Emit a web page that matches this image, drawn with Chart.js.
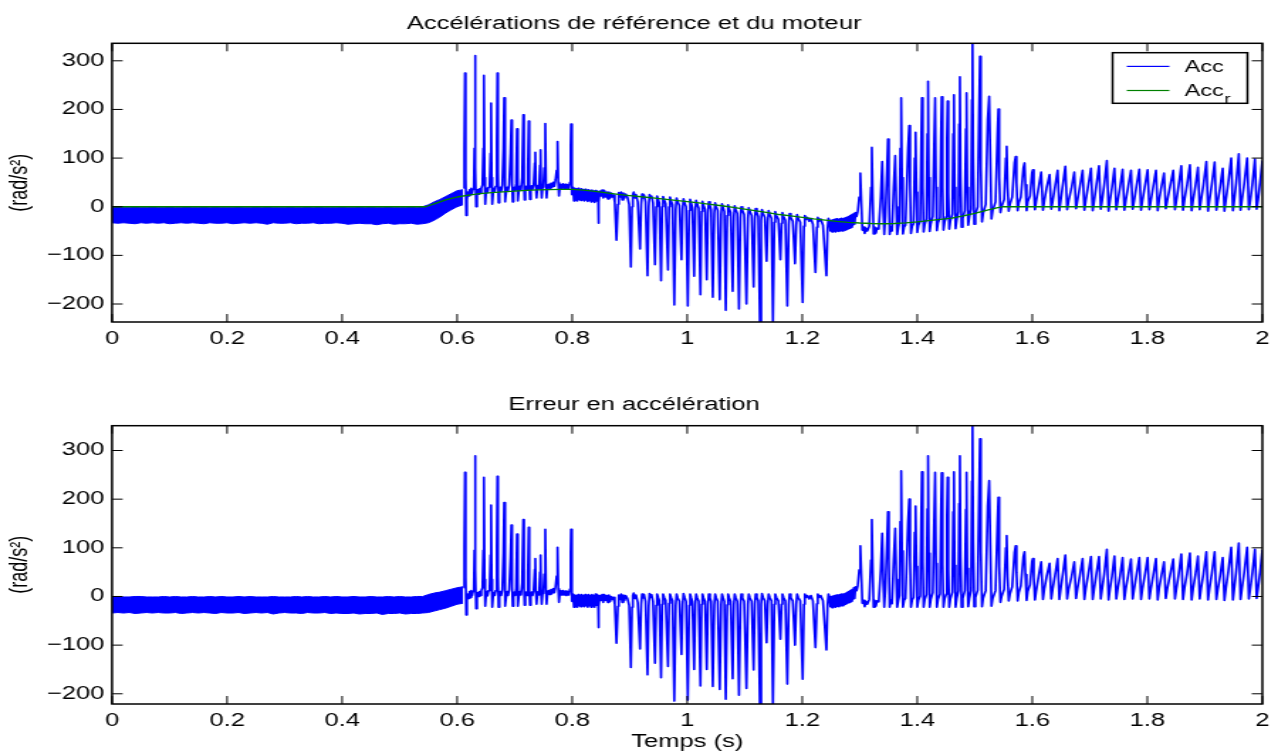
<!DOCTYPE html>
<html><head><meta charset="utf-8">
<script src="https://cdn.jsdelivr.net/npm/chart.js@4.4.1/dist/chart.umd.min.js"></script>
<style>
html,body{margin:0;padding:0;background:#fff;overflow:hidden;}
#wrap{position:relative;width:1278px;height:751px;overflow:hidden;background:#fff;}
canvas{position:absolute;left:0;transform-origin:0 0;transform:scaleX(1.42);}
#c1{top:0;width:900px;height:380px;}
#c2{top:380px;width:900px;height:380px;}
</style></head><body>
<div id="wrap"><canvas id="c1" width="900" height="380"></canvas><canvas id="c2" width="900" height="380"></canvas></div>
<script>
// ---------- axes ----------
const xMin = 0, xMax = 2;
const xTickVals = [0, 0.2, 0.4, 0.6, 0.8, 1, 1.2, 1.4, 1.6, 1.8, 2];
const yTickVals = [-200, -100, 0, 100, 200, 300];
const yRangeTop = [-237, 336];
const yRangeBottom = [-221, 351];

// ---------- reference acceleration (green) ----------
const refT = [0, 0.545, 0.55, 0.56, 0.57, 0.58, 0.59, 0.60, 0.62, 0.64, 0.66, 0.68, 0.70, 0.72, 0.74, 0.76, 0.78, 0.80, 0.82, 0.84, 0.86, 0.88, 0.90, 0.92, 0.94, 0.96, 0.98, 1.00, 1.02, 1.04, 1.06, 1.08, 1.10, 1.12, 1.14, 1.16, 1.18, 1.20, 1.22, 1.24, 1.26, 1.28, 1.30, 1.32, 1.34, 1.36, 1.38, 1.40, 1.42, 1.44, 1.46, 1.48, 1.50, 1.52, 1.54, 1.55, 2.0];
const refV = [0, 0, 2, 6, 10, 14, 17, 20, 24, 27, 29, 30.5, 32, 33.5, 34.5, 35, 35.5, 35.5, 34, 31.5, 28.5, 25.5, 23, 20.5, 18, 15.5, 13, 10.5, 8, 5, 2, -1.5, -5, -8.5, -12, -16, -19, -22, -25, -27.5, -30, -32, -33.5, -34.5, -35, -34.5, -33, -31, -28.5, -26, -23.5, -19, -13.5, -7.5, -2, 0, 0];

// ---------- dense noise band 0 .. 0.61 s (upper / lower envelopes) ----------
const bandT = [0, 0.01, 0.02, 0.03, 0.04, 0.05, 0.06, 0.07, 0.08, 0.09,
  0.10, 0.11, 0.12, 0.13, 0.14, 0.15, 0.16, 0.17, 0.18, 0.19,
  0.20, 0.21, 0.22, 0.23, 0.24, 0.25, 0.26, 0.27, 0.28, 0.29,
  0.30, 0.31, 0.32, 0.33, 0.34, 0.35, 0.36, 0.37, 0.38, 0.39,
  0.40, 0.41, 0.42, 0.43, 0.44, 0.45, 0.46, 0.47, 0.48, 0.49,
  0.50, 0.51, 0.52, 0.53, 0.54,
  0.55, 0.56, 0.57, 0.58, 0.59, 0.60, 0.61];
const accBandHi = [-1, 0, -1, -1, 0, -1, -1, 0, -1, -1,
  0, -1, -1, 0, -1, -1, 0, -1, 0, -1,
  -1, -1, 0, -1, -1, 0, -1, 0, -1, -1,
  -1, 0, -1, -1, 0, -1, 0, -1, -1, -1,
  0, -1, -1, 0, -1, 0, -1, -1, 0, -1,
  -1, -1, 0, -1, 0,
  4, 10, 15, 21, 27, 33, 35];
const accBandLo = [-33, -34, -33, -34, -35, -33, -34, -33, -34, -33,
  -35, -34, -33, -34, -33, -34, -35, -33, -34, -34,
  -33, -35, -34, -33, -34, -33, -34, -36, -33, -34,
  -34, -33, -35, -34, -34, -33, -35, -34, -34, -33,
  -34, -36, -35, -34, -35, -35, -37, -35, -34, -36,
  -35, -35, -34, -36, -35,
  -33, -28, -21, -13, -6, 0, 4];
const errBandHi = [0, -1, -1, -1, 0, 0, -1, -1, -1, 0,
  -1, 0, -1, -1, 0, -1, -1, 0, -1, 0,
  -1, -1, 0, -1, 0, -1, -1, -1, 0, -1,
  -1, -1, 0, -1, 0, -1, -1, 0, -1, 0,
  -1, -1, 0, -1, -1, 0, -1, -1, 0, -1,
  0, -1, -1, 0, 0,
  4, 7, 9, 12, 15, 18, 20];
const errBandLo = [-34, -33, -34, -33, -35, -34, -33, -34, -33, -34,
  -34, -33, -35, -34, -33, -34, -33, -34, -35, -33,
  -34, -34, -33, -35, -34, -33, -34, -33, -36, -34,
  -33, -34, -34, -35, -33, -34, -34, -33, -35, -34,
  -35, -35, -34, -36, -35, -35, -34, -37, -35, -35,
  -34, -36, -35, -35, -34,
  -33, -30, -27, -24, -20, -16, -14];

// ---------- region 1: positive spikes 0.61 .. 0.80 s ----------
const r1T = [0.6115, 0.6125, 0.6136, 0.6147, 0.6158, 0.6170, 0.6185, 0.6200, 0.6215, 0.6230,
  0.6245, 0.6260, 0.6275, 0.6290, 0.6300, 0.6310, 0.6320, 0.6330, 0.6345, 0.6360,
  0.6375, 0.6390, 0.6405, 0.6420, 0.6440, 0.6455, 0.6465, 0.6477, 0.6488, 0.6500,
  0.6515, 0.6530, 0.6545, 0.6565, 0.6580, 0.6590, 0.6600, 0.6610, 0.6625, 0.6640,
  0.6655, 0.6670, 0.6690, 0.6700, 0.6710, 0.6720, 0.6735, 0.6750, 0.6765, 0.6785,
  0.6805, 0.6817, 0.6828, 0.6840, 0.6855, 0.6870, 0.6885, 0.6905, 0.6928, 0.6943,
  0.6955, 0.6966, 0.6980, 0.6995, 0.7010, 0.7025, 0.7040, 0.7050, 0.7060, 0.7075,
  0.7090, 0.7110, 0.7130, 0.7150, 0.7162, 0.7172, 0.7185, 0.7200, 0.7215, 0.7230,
  0.7244, 0.7255, 0.7266, 0.7280, 0.7295, 0.7310, 0.7330, 0.7350, 0.7359, 0.7370,
  0.7380, 0.7395, 0.7410, 0.7425, 0.7440, 0.7450, 0.7460, 0.7470, 0.7485, 0.7500,
  0.7515, 0.7532, 0.7545, 0.7555, 0.7570, 0.7590, 0.7610, 0.7630, 0.7650, 0.7670,
  0.7690, 0.7710, 0.7730, 0.7745, 0.7758, 0.7770, 0.7785, 0.7800, 0.7820, 0.7840,
  0.7860, 0.7880, 0.7900, 0.7920, 0.7940, 0.7960, 0.7972, 0.7980, 0.7990, 0.8000];
const r1Acc = [38, 120, 275, 60, -18, 15, 30, 22, 35, 25,
  38, 28, 36, 40, 120, 311, 80, 0, 25, 35,
  26, 37, 28, 38, 45, 120, 270, 60, 5, 28,
  38, 30, 40, 45, 110, 213, 60, 5, 30, 38,
  32, 42, 130, 275, 70, 8, 32, 40, 32, 45,
  120, 224, 60, 10, 33, 40, 33, 45, 110, 178,
  50, 10, 35, 40, 34, 48, 160, 45, 12, 36,
  42, 35, 60, 189, 50, 14, 38, 42, 35, 80,
  176, 45, 15, 38, 43, 36, 45, 90, 112, 40,
  18, 38, 44, 37, 85, 117, 40, 18, 40, 46,
  80, 171, 45, 18, 40, 46, 38, 48, 40, 50,
  42, 55, 75, 134, 50, 22, 40, 46, 38, 47,
  38, 46, 37, 45, 38, 50, 120, 170, 60, 25];
const r1Err = [18, 100, 255, 40, -38, -8, 5, -4, 10, -2,
  12, 2, 10, 14, 95, 289, 55, -25, 0, 8,
  0, 10, 2, 12, 18, 95, 245, 35, -20, 0,
  10, 2, 12, 18, 85, 188, 35, -22, 2, 8,
  2, 12, 100, 247, 40, -22, 2, 10, 2, 14,
  90, 193, 30, -20, 2, 10, 2, 14, 80, 147,
  20, -20, 4, 9, 2, 16, 128, 14, -20, 4,
  10, 3, 28, 158, 18, -18, 5, 9, 2, 48,
  142, 12, -18, 4, 9, 2, 12, 56, 78, 6,
  -16, 4, 10, 3, 50, 85, 6, -16, 6, 12,
  46, 138, 11, -16, 6, 12, 4, 14, 6, 16,
  8, 20, 42, 101, 16, -12, 6, 12, 3, 12,
  3, 11, 2, 10, 3, 15, 85, 138, 26, -10];

// ---------- region 2: noisy plateau 0.80 .. 0.845 s ----------
const r2T = [0.8015, 0.8030, 0.8045, 0.8060, 0.8075, 0.8090, 0.8105, 0.8120, 0.8135, 0.8150,
  0.8165, 0.8180, 0.8195, 0.8210, 0.8225, 0.8240, 0.8255, 0.8270, 0.8285, 0.8300,
  0.8315, 0.8330, 0.8345, 0.8360, 0.8375, 0.8390, 0.8405, 0.8420, 0.8435];
const r2Acc = [40, 12, 38, 14, 37, 12, 38, 15, 36, 13,
  37, 15, 35, 12, 36, 14, 34, 11, 35, 13,
  33, 10, 34, 12, 32, 9, 33, 12, 32];
const r2Err = [5, -22, 3, -21, 2, -22, 4, -19, 2, -21,
  4, -19, 2, -21, 4, -19, 2, -22, 4, -19,
  2, -22, 4, -19, 2, -22, 5, -18, 4];

// ---------- region 3: negative spikes 0.845 .. 1.245 s ----------
const r3T = [0.8450, 0.8455, 0.8465, 0.8480, 0.8500, 0.8520, 0.8540, 0.8560, 0.8580, 0.8600,
  0.8620, 0.8640, 0.8660, 0.8680, 0.8700, 0.8720, 0.8740, 0.8770, 0.8795, 0.8810,
  0.8830, 0.8850, 0.8870, 0.8890, 0.8910, 0.8930, 0.8960, 0.8990, 0.9020, 0.9040,
  0.9055, 0.9070, 0.9090, 0.9110, 0.9140, 0.9180, 0.9200, 0.9215, 0.9230, 0.9250,
  0.9275, 0.9310, 0.9330, 0.9345, 0.9360, 0.9380, 0.9405, 0.9440, 0.9460, 0.9475,
  0.9495, 0.9515, 0.9545, 0.9565, 0.9580, 0.9600, 0.9625, 0.9666, 0.9685, 0.9700,
  0.9720, 0.9745, 0.9775, 0.9800, 0.9815, 0.9835, 0.9865, 0.9900, 0.9920, 0.9935,
  0.9955, 0.9980, 1.0010, 1.0035, 1.0050, 1.0070, 1.0090, 1.0120, 1.0140, 1.0155,
  1.0175, 1.0200, 1.0230, 1.0250, 1.0265, 1.0285, 1.0310, 1.0340, 1.0360, 1.0375,
  1.0395, 1.0415, 1.0444, 1.0470, 1.0485, 1.0505, 1.0530, 1.0565, 1.0590, 1.0605,
  1.0625, 1.0645, 1.0670, 1.0695, 1.0710, 1.0730, 1.0755, 1.0790, 1.0810, 1.0825,
  1.0845, 1.0870, 1.0900, 1.0925, 1.0940, 1.0960, 1.0990, 1.1030, 1.1055, 1.1070,
  1.1090, 1.1120, 1.1154, 1.1175, 1.1190, 1.1210, 1.1235, 1.1263, 1.1285, 1.1300,
  1.1320, 1.1350, 1.1380, 1.1400, 1.1415, 1.1435, 1.1465, 1.1490, 1.1515, 1.1530,
  1.1550, 1.1585, 1.1620, 1.1640, 1.1655, 1.1675, 1.1705, 1.1740, 1.1765, 1.1780,
  1.1800, 1.1835, 1.1874, 1.1895, 1.1910, 1.1930, 1.1965, 1.2007, 1.2030, 1.2045,
  1.2065, 1.2090, 1.2120, 1.2150, 1.2185, 1.2230, 1.2255, 1.2270, 1.2290, 1.2320,
  1.2360, 1.2420, 1.2440, 1.2455];
const r3Acc = [30, -34, 10, 32, 22, 34, 18, 33, 20, 30,
  16, 30, 18, 28, 20, 24, 10, -69, 5, 29,
  20, 30, 14, 28, 18, 26, 20, 5, -124, 0,
  25, 30, 18, 25, 10, -87, 5, 26, 18, 24,
  10, -142, 0, 25, 18, 22, 8, -119, 0, 22,
  15, 8, -152, 0, 21, 14, 6, -130, 0, 20,
  12, 4, -202, -5, 18, 10, 2, -109, -5, 16,
  8, 0, -204, -8, 15, 7, -2, -143, -8, 13,
  5, -3, -181, -10, 11, 3, -5, -150, -12, 10,
  2, -6, -186, -14, 8, 0, -8, -191, -15, 6,
  -2, -10, -213, -18, 4, -4, -12, -174, -20, 2,
  -6, -14, -210, -22, 0, -8, -16, -200, -24, -2,
  -10, -18, -165, -25, -4, -12, -20, -236, -28, -6,
  -14, -22, -112, -30, -8, -16, -24, -238, -32, -10,
  -18, -26, -109, -34, -12, -20, -28, -204, -36, -14,
  -22, -30, -117, -38, -16, -24, -32, -197, -40, -18,
  -26, -22, -30, -24, -36, -135, -42, -22, -30, -25,
  -38, -142, -45, -24];
const r3Err = [0, -64, -20, 2, -8, 4, -12, 4, -8, 2,
  -12, 3, -10, 0, -6, -2, -15, -96, -20, 3,
  -6, 5, -12, 3, -8, 2, -4, -18, -146, -22,
  2, 7, -4, 3, -12, -108, -16, 5, -3, 4,
  -10, -161, -20, 6, -2, 4, -10, -137, -18, 5,
  -2, -8, -167, -16, 5, -2, -8, -144, -14, 5,
  -2, -9, -215, -18, 5, -3, -10, -119, -16, 6,
  -2, -10, -213, -18, 5, -3, -10, -150, -16, 5,
  -3, -10, -184, -16, 5, -3, -10, -150, -16, 5,
  -3, -10, -185, -17, 5, -3, -10, -191, -16, 5,
  -3, -10, -211, -17, 5, -3, -10, -169, -17, 5,
  -3, -10, -203, -17, 5, -3, -10, -189, -16, 5,
  -3, -10, -151, -15, 5, -2, -9, -226, -16, 6,
  -2, -9, -95, -16, 5, -2, -9, -226, -16, 5,
  -2, -9, -88, -16, 5, -2, -9, -180, -16, 5,
  -2, -9, -100, -16, 5, -2, -9, -170, -16, 5,
  -2, 2, -5, 2, -9, -105, -15, 5, -2, 2,
  -9, -110, -16, 5];

// ---------- region 4: noisy plateau 1.245 .. 1.305 s ----------
const r4T = [1.2475, 1.2490, 1.2505, 1.2520, 1.2535, 1.2550, 1.2565, 1.2580, 1.2595, 1.2610,
  1.2625, 1.2640, 1.2655, 1.2670, 1.2685, 1.2700, 1.2715, 1.2730, 1.2745, 1.2760,
  1.2775, 1.2790, 1.2805, 1.2820, 1.2835, 1.2850, 1.2865, 1.2880, 1.2895, 1.2910,
  1.2925, 1.2945, 1.2965, 1.2990, 1.3010, 1.3030, 1.3045];
const r4Acc = [-30, -50, -28, -52, -27, -50, -26, -52, -25, -50,
  -26, -51, -25, -49, -24, -50, -25, -48, -23, -48,
  -22, -46, -20, -44, -18, -42, -16, -38, -14, -36,
  -12, -20, -10, 20, 69, 0, -48];
const r4Err = [-2, -21, 0, -23, 1, -21, 2, -22, 3, -20,
  3, -21, 4, -19, 5, -19, 5, -17, 6, -16,
  8, -14, 10, -12, 12, -10, 14, -6, 18, -4,
  20, 12, 22, 55, 104, 35, -14];

// ---------- region 5: positive spikes 1.30 .. 1.61 s ----------
const r5T = [1.3065, 1.3085, 1.3105, 1.3130, 1.3165, 1.3195, 1.3210, 1.3225, 1.3240, 1.3260,
  1.3280, 1.3300, 1.3330, 1.3365, 1.3390, 1.3410, 1.3425, 1.3445, 1.3475, 1.3490,
  1.3505, 1.3520, 1.3540, 1.3560, 1.3590, 1.3616, 1.3635, 1.3650, 1.3670, 1.3690,
  1.3705, 1.3720, 1.3735, 1.3750, 1.3770, 1.3795, 1.3840, 1.3860, 1.3875, 1.3890,
  1.3910, 1.3935, 1.3955, 1.3970, 1.3985, 1.4000, 1.4020, 1.4050, 1.4068, 1.4080,
  1.4095, 1.4110, 1.4130, 1.4160, 1.4175, 1.4187, 1.4200, 1.4215, 1.4235, 1.4270,
  1.4295, 1.4310, 1.4325, 1.4340, 1.4360, 1.4395, 1.4412, 1.4424, 1.4440, 1.4455,
  1.4475, 1.4505, 1.4515, 1.4527, 1.4540, 1.4555, 1.4575, 1.4610, 1.4625, 1.4637,
  1.4650, 1.4665, 1.4685, 1.4715, 1.4728, 1.4740, 1.4752, 1.4770, 1.4790, 1.4825,
  1.4845, 1.4856, 1.4868, 1.4885, 1.4905, 1.4935, 1.4950, 1.4960, 1.4972, 1.4990,
  1.5010, 1.5050, 1.5075, 1.5090, 1.5105, 1.5125, 1.5145, 1.5190, 1.5225, 1.5250,
  1.5270, 1.5290, 1.5310, 1.5360, 1.5395, 1.5410, 1.5425, 1.5445, 1.5465, 1.5510,
  1.5540, 1.5554, 1.5570, 1.5590, 1.5610, 1.5650, 1.5690, 1.5710, 1.5725, 1.5745,
  1.5765, 1.5800, 1.5845, 1.5865, 1.5880, 1.5900, 1.5920, 1.5960, 1.5995, 1.6010,
  1.6025, 1.6045, 1.6065];
const r5Acc = [-42, -55, -44, -50, -40, 40, 122, 20, -56, -42,
  -54, -44, -46, 20, 93, -10, -57, -20, 80, 139,
  40, -57, -42, -50, 40, 105, 0, -57, -42, -32,
  120, 224, 60, -56, -42, -38, 120, 167, 40, -55,
  -40, -35, 100, 153, 30, -53, -38, -30, 130, 224,
  40, -52, -36, -25, 150, 258, 60, -51, -35, -20,
  140, 224, 40, -49, -33, -22, 140, 226, 40, -48,
  -31, -20, 140, 217, 30, -46, -29, -15, 150, 230,
  40, -45, -27, -10, 170, 267, 60, -42, -24, -8,
  160, 234, 40, -38, -21, -5, 220, 340, 100, -36,
  -16, 0, 200, 309, 80, -31, -13, 5, 180, 227,
  100, -25, -8, 10, 150, 201, 60, -12, 0, 15,
  100, 124, 40, -9, 5, 20, 90, 103, 50, -8,
  8, 20, 80, 90, 45, -8, 10, 22, 70, 76,
  40, -6, 10];
const r5Err = [-8, -21, -10, -16, -6, 75, 158, 55, -22, -8,
  -20, -9, -11, 55, 130, 25, -22, 15, 115, 174,
  75, -22, -7, -15, 75, 140, 35, -22, -8, 2,
  154, 258, 94, -22, -8, -4, 153, 200, 73, -22,
  -7, -2, 132, 186, 62, -22, -7, 1, 161, 256,
  71, -22, -6, 4, 180, 289, 89, -22, -6, 8,
  168, 255, 68, -22, -6, 5, 167, 254, 66, -22,
  -5, 5, 166, 245, 56, -22, -5, 9, 174, 256,
  64, -22, -4, 12, 191, 289, 81, -22, -4, 12,
  179, 255, 58, -21, -4, 12, 237, 356, 116, -21,
  -2, 13, 212, 324, 92, -21, -3, 12, 186, 238,
  106, -20, -4, 12, 152, 204, 62, -12, 0, 15,
  100, 125, 40, -9, 5, 20, 90, 104, 50, -9,
  8, 22, 82, 92, 45, -8, 10, 24, 72, 78,
  40, -7, 10];

// ---------- region 6: periodic tail 1.61 .. 2.0 s ----------
const r6T = [1.6110, 1.6154, 1.6185, 1.6210, 1.6250, 1.6300, 1.6330, 1.6355, 1.6395, 1.6440,
  1.6470, 1.6495, 1.6530, 1.6574, 1.6605, 1.6630, 1.6680, 1.6730, 1.6760, 1.6785,
  1.6825, 1.6874, 1.6905, 1.6930, 1.6970, 1.7020, 1.7050, 1.7075, 1.7110, 1.7160,
  1.7190, 1.7215, 1.7250, 1.7296, 1.7325, 1.7350, 1.7385, 1.7428, 1.7460, 1.7485,
  1.7525, 1.7570, 1.7600, 1.7625, 1.7665, 1.7716, 1.7745, 1.7770, 1.7810, 1.7860,
  1.7890, 1.7915, 1.7955, 1.8005, 1.8035, 1.8060, 1.8100, 1.8150, 1.8180, 1.8205,
  1.8240, 1.8290, 1.8320, 1.8345, 1.8395, 1.8450, 1.8480, 1.8505, 1.8545, 1.8590,
  1.8620, 1.8645, 1.8690, 1.8740, 1.8770, 1.8795, 1.8835, 1.8880, 1.8910, 1.8935,
  1.8975, 1.9026, 1.9055, 1.9080, 1.9120, 1.9170, 1.9200, 1.9225, 1.9265, 1.9310,
  1.9340, 1.9365, 1.9405, 1.9458, 1.9488, 1.9513, 1.9545, 1.9590, 1.9620, 1.9645,
  1.9685, 1.9735, 1.9765, 1.9790, 1.9825, 1.9870, 1.9900, 1.9925, 1.9960, 2.0000];
const r6Acc = [40, 71, -7, 13, 40, 66, -5, 12, 42, 75,
  -8, 14, 45, 83, -6, 12, 38, 71, -4, 13,
  40, 75, -7, 14, 42, 79, -8, 12, 42, 84,
  -5, 14, 45, 95, -9, 13, 40, 79, -6, 12,
  40, 77, -7, 13, 40, 75, -5, 12, 42, 77,
  -7, 13, 41, 76, -6, 12, 40, 75, -8, 14,
  38, 69, -4, 12, 42, 75, -6, 13, 45, 84,
  -7, 14, 45, 86, -8, 13, 42, 81, -6, 14,
  45, 93, -9, 13, 46, 92, -7, 12, 40, 79,
  -9, 14, 48, 100, -8, 15, 50, 109, -7, 14,
  48, 100, -6, 13, 46, 98, -5, 14, 50, 95];
const r6Err = [42, 71, -6, 16, 42, 68, -5, 16, 44, 78,
  -6, 17, 46, 85, -5, 15, 40, 71, -4, 16,
  42, 78, -6, 17, 44, 82, -6, 16, 44, 82,
  -5, 17, 46, 97, -7, 16, 42, 83, -5, 16,
  42, 80, -6, 16, 42, 77, -5, 15, 44, 80,
  -6, 16, 43, 80, -5, 15, 42, 78, -7, 17,
  40, 71, -4, 15, 44, 77, -5, 16, 46, 87,
  -6, 17, 47, 89, -7, 16, 44, 83, -5, 17,
  46, 92, -7, 16, 47, 92, -6, 15, 42, 80,
  -8, 17, 50, 101, -7, 18, 52, 110, -6, 17,
  50, 101, -5, 16, 48, 97, -4, 17, 50, 96];

// ---------- assembly ----------
const regions = [[r1T, r1Acc, r1Err], [r2T, r2Acc, r2Err], [r3T, r3Acc, r3Err], [r4T, r4Acc, r4Err], [r5T, r5Acc, r5Err], [r6T, r6Acc, r6Err]];
regions.forEach((g, i) => { if (g[0].length !== g[1].length || g[0].length !== g[2].length) console.error('length mismatch region', i + 1, g.map(a => a.length)); });
const sigT = [].concat(...regions.map(g => g[0]));
const sigAcc = [].concat(...regions.map(g => g[1]));
const sigErr = [].concat(...regions.map(g => g[2]));
const pts = (ts, vs) => ts.map((t, i) => ({x: t, y: vs[i]}));

const FONT = "'Liberation Sans', Arial, Helvetica, sans-serif";
Chart.defaults.font.family = FONT;
Chart.defaults.font.size = 18;
Chart.defaults.color = '#000';

const fmtY = v => v < 0 ? '\u2212' + Math.abs(v) : String(v);
const fmtX = v => String(Math.round(v * 10) / 10);

const framePlugin = {
  id: 'frame',
  afterDatasetsDraw(chart) {
    const {ctx, chartArea: a, scales: {x, y}} = chart;
    ctx.save();
    ctx.strokeStyle = '#000';
    ctx.lineWidth = 1;
    ctx.beginPath();
    xTickVals.forEach(v => {
      const px = x.getPixelForValue(v);
      ctx.moveTo(px, a.bottom); ctx.lineTo(px, a.bottom - 8);
      ctx.moveTo(px, a.top); ctx.lineTo(px, a.top + 8);
    });
    yTickVals.forEach(v => {
      const py = y.getPixelForValue(v);
      ctx.moveTo(a.left, py); ctx.lineTo(a.left + 7.5, py);
      ctx.moveTo(a.right, py); ctx.lineTo(a.right - 7.5, py);
    });
    ctx.stroke();
    ctx.lineWidth = 1.5;
    ctx.strokeRect(a.left, a.top, a.right - a.left, a.bottom - a.top);
    ctx.restore();
  }
};

const legendPlugin = {
  id: 'accLegend',
  afterDraw(chart, args, o) {
    if (!o || !o.items) return;
    const {ctx, chartArea: a} = chart;
    const w = 95, h = 50.6;
    const bx = a.right - 10.5 - w, by = a.top + 9.4;
    ctx.save();
    ctx.fillStyle = '#fff';
    ctx.fillRect(bx, by, w, h);
    ctx.strokeStyle = '#000';
    ctx.lineWidth = 1.5;
    ctx.strokeRect(bx, by, w, h);
    o.items.forEach((it, i) => {
      const ly = by + 13.7 + i * 24.1;
      ctx.strokeStyle = it.color;
      ctx.lineWidth = 1.2;
      ctx.beginPath(); ctx.moveTo(bx + 10, ly); ctx.lineTo(bx + 40, ly); ctx.stroke();
      ctx.fillStyle = '#000';
      ctx.textBaseline = 'alphabetic';
      ctx.textAlign = 'left';
      ctx.font = '16.5px ' + FONT;
      ctx.fillText(it.text, bx + 50.8, ly + 5.9);
      if (it.sub) {
        const tw = ctx.measureText(it.text).width;
        ctx.font = '13px ' + FONT;
        ctx.fillText(it.sub, bx + 50.8 + tw + 0.5, ly + 12.5);
      }
    });
    ctx.restore();
  }
};

function makeChart(id, cfg) {
  const datasets = [];
  if (cfg.ref) datasets.push({label: 'Acc_r', data: pts(refT, refV), borderColor: '#008000', borderWidth: 1.3, order: 0, fill: false});
  datasets.push({label: 'sig', data: pts(sigT, cfg.sig), borderColor: '#0000ff', borderWidth: 1.65, order: 1, fill: false});
  const hiIdx = datasets.length;
  datasets.push({label: 'bandHi', data: pts(bandT, cfg.hi), borderColor: '#0000ff', borderWidth: 1, order: 2, fill: false});
  datasets.push({label: 'bandLo', data: pts(bandT, cfg.lo), borderColor: '#0000ff', borderWidth: 1, order: 3, fill: hiIdx, backgroundColor: '#0000ff'});
  return new Chart(document.getElementById(id), {
    type: 'line',
    data: {datasets},
    plugins: [framePlugin, legendPlugin],
    options: {
      responsive: false, animation: false, devicePixelRatio: 1, events: [],
      layout: {padding: {left: 0, right: 6.9, top: 0, bottom: 0}},
      elements: {point: {radius: 0}, line: {tension: 0, borderJoinStyle: 'round'}},
      plugins: {
        legend: {display: false}, tooltip: {enabled: false},
        title: {display: true, text: cfg.title, color: '#000', font: {size: 18, weight: 'normal'}, padding: cfg.titlePad},
        accLegend: cfg.legend || {}
      },
      scales: {
        x: {
          type: 'linear', min: xMin, max: xMax,
          grid: {display: false, drawTicks: false}, border: {display: false},
          ticks: {padding: 6, callback: fmtX, maxRotation: 0, autoSkip: false, color: '#000'},
          afterBuildTicks: s => { s.ticks = xTickVals.map(v => ({value: v})); },
          afterFit: s => { s.height = cfg.xHeight; },
          title: {display: !!cfg.xTitle, text: cfg.xTitle || '', color: '#000', padding: {top: 0, bottom: 7.4}}
        },
        y: {
          type: 'linear', min: cfg.yRange[0], max: cfg.yRange[1],
          grid: {display: false, drawTicks: false}, border: {display: false},
          ticks: {padding: 5.3, callback: fmtY, color: '#000'},
          afterBuildTicks: s => { s.ticks = yTickVals.map(v => ({value: v})); },
          afterFit: s => { s.width = 78.9; },
          title: {display: true, text: '(rad/s\u00b2)', color: '#000', padding: {top: 3.4, bottom: 0}}
        }
      }
    }
  });
}

makeChart('c1', {
  title: 'Accélérations de référence et du moteur', titlePad: {top: 12.8, bottom: 8.9},
  ref: true, sig: sigAcc, hi: accBandHi, lo: accBandLo, yRange: yRangeTop, xHeight: 58,
  legend: {items: [{text: 'Acc', color: '#0000ff'}, {text: 'Acc', sub: 'r', color: '#008000'}]}
});
makeChart('c2', {
  title: 'Erreur en accélération', titlePad: {top: 14.5, bottom: 9.6},
  ref: false, sig: sigErr, hi: errBandHi, lo: errBandLo, yRange: yRangeBottom, xHeight: 56,
  xTitle: 'Temps (s)'
});
</script>
</body></html>
